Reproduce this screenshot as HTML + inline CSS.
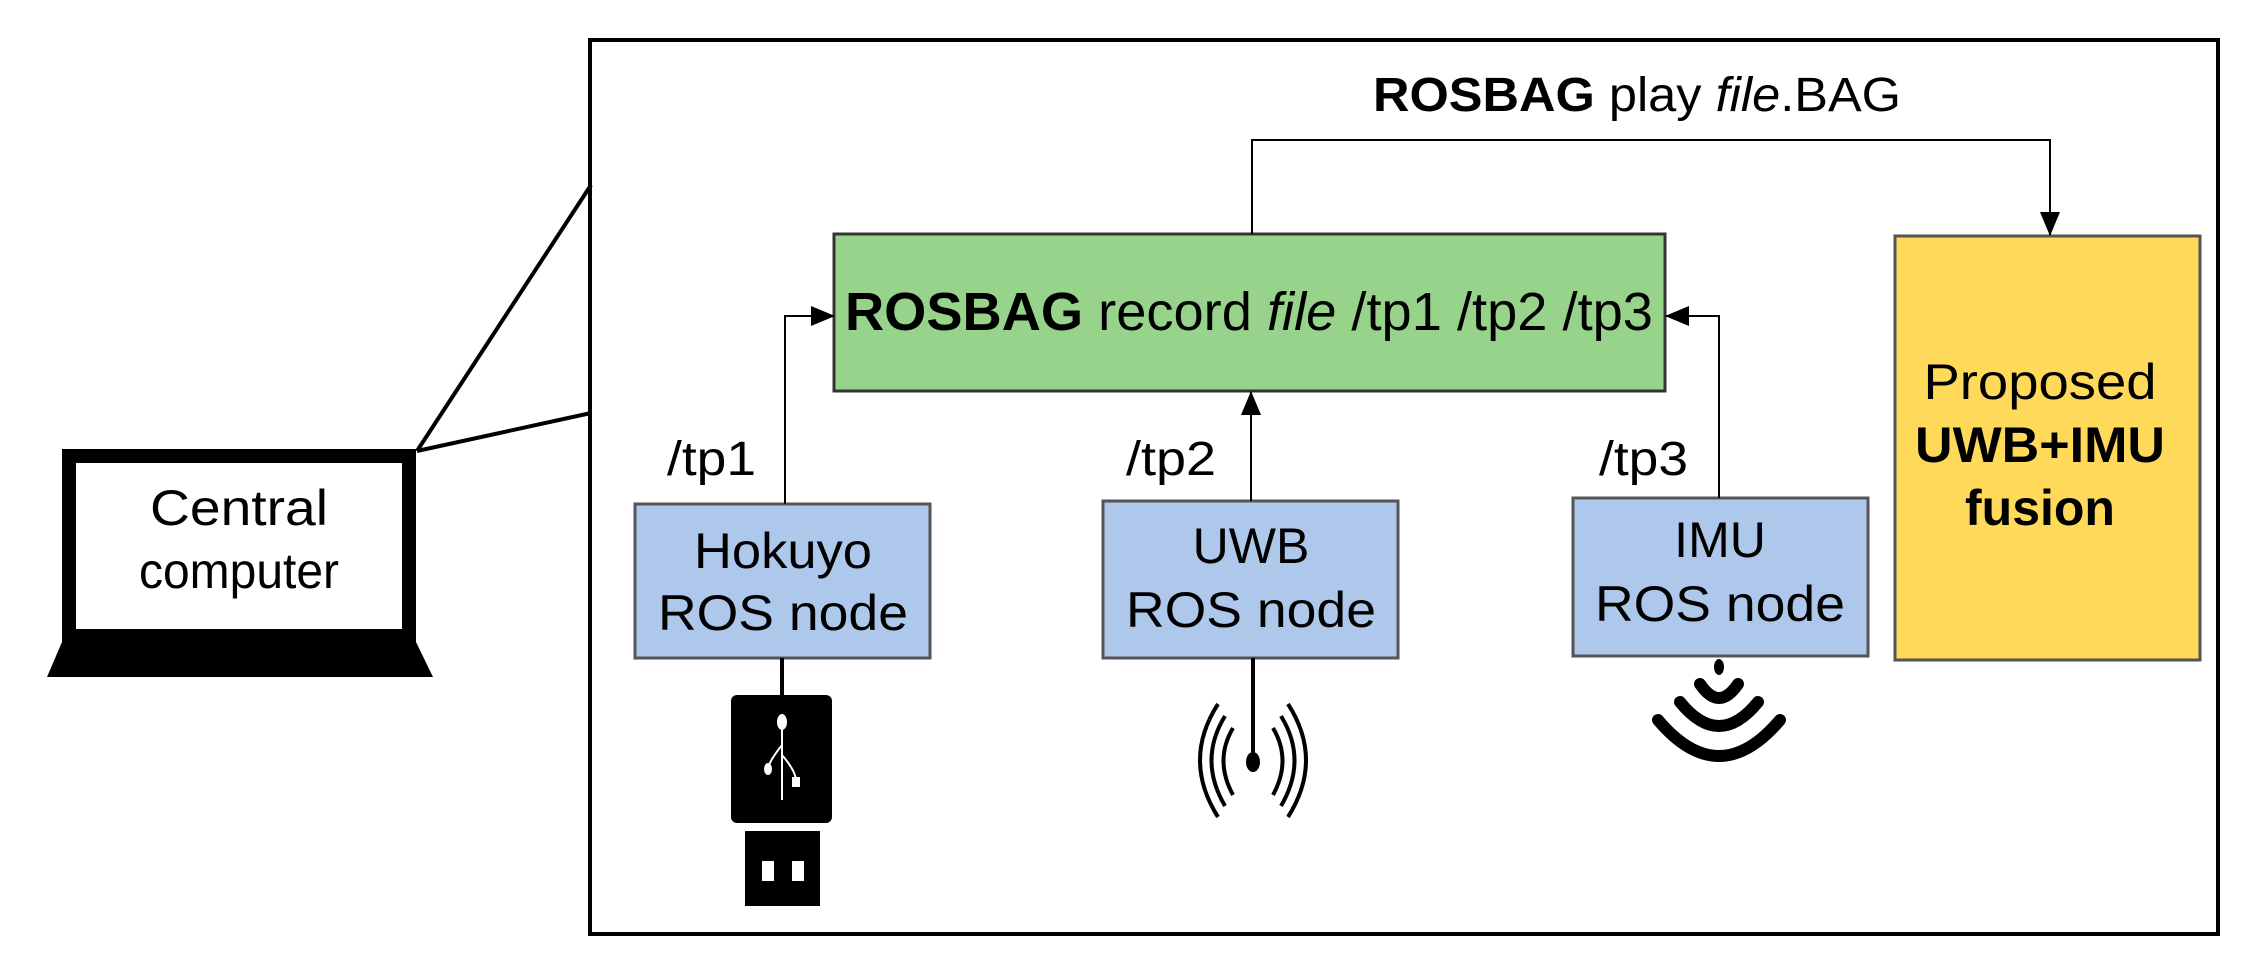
<!DOCTYPE html>
<html><head><meta charset="utf-8"><style>
html,body{margin:0;padding:0;background:#fff;}
svg{display:block;}
text{font-family:"Liberation Sans",Arial,sans-serif;fill:#000;}
</style></head><body>
<svg width="2248" height="968" viewBox="0 0 2248 968" xmlns="http://www.w3.org/2000/svg">
<defs>
<marker id="ar" markerWidth="24" markerHeight="20" refX="23" refY="10" orient="auto" markerUnits="userSpaceOnUse" viewBox="0 0 24 20">
<path d="M0,0 L24,10 L0,20 z" fill="#000"/></marker>
</defs>
<rect x="0" y="0" width="2248" height="968" fill="#fff"/>
<rect x="590" y="40" width="1628" height="894" fill="none" stroke="#000" stroke-width="4"/>
<line x1="417" y1="451" x2="591" y2="185" stroke="#000" stroke-width="4"/>
<line x1="417" y1="451" x2="591" y2="413" stroke="#000" stroke-width="4"/>
<rect x="62" y="449" width="354" height="193" fill="#000"/>
<rect x="76" y="463" width="326" height="166" fill="#fff"/>
<polygon points="62,642 416,642 433,677 47,677" fill="#000"/>
<text x="239" y="525" font-size="50" text-anchor="middle" textLength="178" lengthAdjust="spacingAndGlyphs">Central</text>
<text x="239" y="588" font-size="50" text-anchor="middle" textLength="200" lengthAdjust="spacingAndGlyphs">computer</text>
<rect x="834" y="234" width="831" height="157" fill="#98d38b" stroke="#333" stroke-width="3"/>
<text x="845" y="330" font-size="54" textLength="808" lengthAdjust="spacingAndGlyphs"><tspan font-weight="bold">ROSBAG</tspan> record <tspan font-style="italic">file</tspan> /tp1 /tp2 /tp3</text>
<rect x="1895" y="236" width="305" height="424" fill="#ffd95a" stroke="#555" stroke-width="3"/>
<text x="2040" y="399" font-size="50" text-anchor="middle" textLength="233" lengthAdjust="spacingAndGlyphs">Proposed</text>
<text x="2040" y="462" font-size="50" font-weight="bold" text-anchor="middle" textLength="250" lengthAdjust="spacingAndGlyphs">UWB+IMU</text>
<text x="2040" y="525" font-size="50" font-weight="bold" text-anchor="middle">fusion</text>
<rect x="635" y="504" width="295" height="154" fill="#adc8ea" stroke="#555" stroke-width="3"/>
<rect x="1103" y="501" width="295" height="157" fill="#adc8ea" stroke="#555" stroke-width="3"/>
<rect x="1573" y="498" width="295" height="158" fill="#adc8ea" stroke="#555" stroke-width="3"/>
<text x="783" y="568" font-size="50" text-anchor="middle" textLength="178" lengthAdjust="spacingAndGlyphs">Hokuyo</text>
<text x="783" y="630" font-size="50" text-anchor="middle" textLength="250" lengthAdjust="spacingAndGlyphs">ROS node</text>
<text x="1251" y="563" font-size="50" text-anchor="middle">UWB</text>
<text x="1251" y="627" font-size="50" text-anchor="middle" textLength="250" lengthAdjust="spacingAndGlyphs">ROS node</text>
<text x="1720" y="557" font-size="50" text-anchor="middle">IMU</text>
<text x="1720" y="621" font-size="50" text-anchor="middle" textLength="250" lengthAdjust="spacingAndGlyphs">ROS node</text>
<text x="667" y="475" font-size="48" textLength="89" lengthAdjust="spacingAndGlyphs">/tp1</text>
<text x="1126" y="475" font-size="48" textLength="90" lengthAdjust="spacingAndGlyphs">/tp2</text>
<text x="1599" y="475" font-size="48" textLength="89" lengthAdjust="spacingAndGlyphs">/tp3</text>
<text x="1373" y="111" font-size="48" textLength="528" lengthAdjust="spacingAndGlyphs"><tspan font-weight="bold">ROSBAG</tspan> play <tspan font-style="italic">file</tspan>.BAG</text>
<polyline points="785,504 785,316 834,316" fill="none" stroke="#000" stroke-width="2" marker-end="url(#ar)"/>
<polyline points="1719,498 1719,316 1666,316" fill="none" stroke="#000" stroke-width="2" marker-end="url(#ar)"/>
<line x1="1251" y1="501" x2="1251" y2="392" stroke="#000" stroke-width="2" marker-end="url(#ar)"/>
<polyline points="1252,234 1252,140 2050,140 2050,235" fill="none" stroke="#000" stroke-width="2" marker-end="url(#ar)"/>
<line x1="782" y1="658" x2="782" y2="697" stroke="#000" stroke-width="4"/>
<rect x="731" y="695" width="101" height="128" rx="6" fill="#000"/>
<rect x="745" y="831" width="75" height="75" fill="#000"/>
<rect x="762" y="861" width="12" height="20" fill="#fff"/>
<rect x="792" y="861" width="12" height="20" fill="#fff"/>
<g stroke="#fff" stroke-width="2" fill="none">
<line x1="782" y1="722" x2="782" y2="800"/>
<path d="M782,745 Q770,760 768,768"/>
<path d="M782,755 Q795,770 796,780"/>
</g>
<ellipse cx="782" cy="722" rx="5" ry="8" fill="#fff"/>
<ellipse cx="768" cy="769" rx="4" ry="6" fill="#fff"/>
<rect x="792" y="777" width="8" height="10" fill="#fff"/>
<line x1="1253" y1="658" x2="1253" y2="758" stroke="#000" stroke-width="4"/>
<ellipse cx="1253" cy="762" rx="7" ry="10" fill="#000"/>
<g stroke="#000" stroke-width="4" fill="none">
<path d="M1233,728 Q1214,760 1233,795"/>
<path d="M1225,716 Q1198,760 1225,806"/>
<path d="M1218,704 Q1182,760 1218,817"/>
<path d="M1273,728 Q1292,760 1273,795"/>
<path d="M1281,716 Q1308,760 1281,806"/>
<path d="M1288,704 Q1324,760 1288,817"/>
</g>
<ellipse cx="1719" cy="667" rx="5" ry="8" fill="#000"/>
<g stroke="#000" stroke-width="12" fill="none" stroke-linecap="round">
<path d="M1700,684 Q1719,712 1738,684"/>
<path d="M1680,702 Q1719,750 1758,702"/>
<path d="M1658,720 Q1719,792 1780,720"/>
</g>
</svg>
</body></html>
